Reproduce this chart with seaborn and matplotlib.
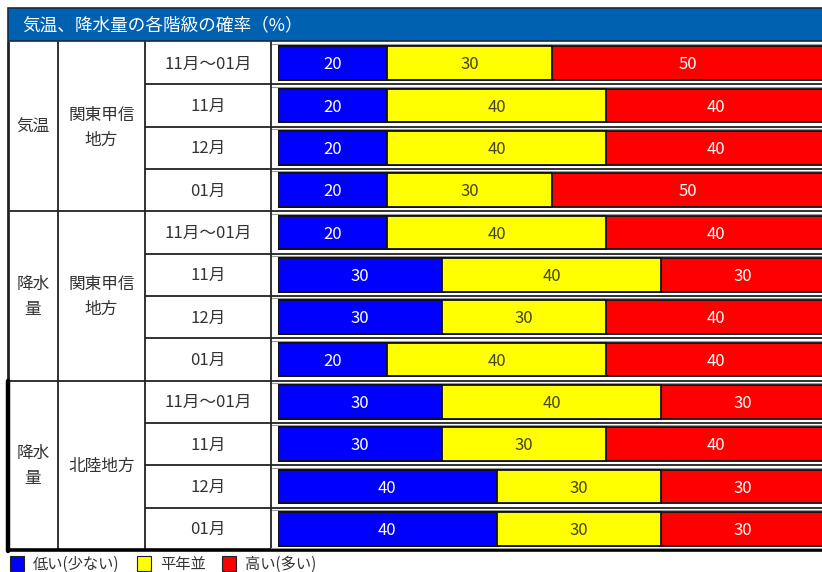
import matplotlib
matplotlib.use("Agg")
import matplotlib.pyplot as plt
import seaborn as sns
import numpy as np
import pandas as pd
from matplotlib.patches import Rectangle

sns.set_theme(style="white")
plt.rcParams["font.family"] = ["Noto Sans CJK JP", "DejaVu Sans"]

# --- data -------------------------------------------------------------
title = "気温、降水量の各階級の確率（%）"
periods = ["11月～01月", "11月", "12月", "01月"] * 3
elements = ["気温", "降水\n量", "降水\n量"]
regions = ["関東甲信\n地方", "関東甲信\n地方", "北陸地方"]
low = [20, 20, 20, 20, 20, 30, 30, 20, 30, 30, 40, 40]
normal = [30, 40, 40, 30, 40, 40, 30, 40, 40, 30, 30, 30]
high = [50, 40, 40, 50, 40, 30, 40, 40, 30, 40, 30, 30]
legend_labels = ["低い(少ない)", "平年並", "高い(多い)"]
colors = ["#0000FF", "#FFFF00", "#FF0000"]
text_colors = ["white", "#444422", "white"]

# --- layout (pixels) -------------------------------------------------
W, H = 822, 572
top, bottom = 42.0, 550.0
n = len(periods)
pitch = (bottom - top) / n
col_x = [8, 58, 145, 271]
bar_left, bar_right = 278, 825

fig = plt.figure(figsize=(W / 100, H / 100), dpi=100)
bg = fig.add_axes([0, 0, 1, 1])
bg.set_xlim(0, W)
bg.set_ylim(H, 0)
bg.axis("off")

# header band
bg.add_patch(Rectangle((8, 8), W, 33, facecolor="#0061B0",
                       edgecolor="#1a2a40", linewidth=1.2))
bg.text(22, 25, title, color="white", fontsize=12.7, va="center", ha="left")

line_c = "#222222"
# row separators in the period column and bar area
for i in range(1, n):
    y = top + i * pitch
    x0 = col_x[0] if i % 4 == 0 else col_x[2]
    bg.plot([x0, W], [y, y], color=line_c, lw=1.3, solid_capstyle="butt")
    bg.plot([col_x[3], W], [y + 2.2, y + 2.2], color="#999999", lw=0.8)
bg.plot([col_x[3], W], [top + 2.2, top + 2.2], color="#999999", lw=0.8)

# vertical separators
for x in col_x[1:]:
    bg.plot([x, x], [top, bottom], color=line_c, lw=1.3)
bg.plot([col_x[0], col_x[0]], [top, top + 8 * pitch], color=line_c, lw=2.0)
# emphasised frame around the last block
bg.plot([col_x[0], col_x[0]], [top + 8 * pitch, bottom + 1], color="black", lw=3.2)
bg.plot([col_x[0], W], [bottom, bottom], color="black", lw=2.6)
bg.plot([col_x[3], W], [bottom - 2.5, bottom - 2.5], color="#999999", lw=0.8)

# group labels
for g in range(3):
    yc = top + (4 * g + 2) * pitch + 1
    bg.text((col_x[0] + col_x[1]) / 2, yc, elements[g], ha="center", va="center",
            fontsize=12, color="#333333", linespacing=1.6)
    bg.text((col_x[1] + col_x[2]) / 2, yc, regions[g], ha="center", va="center",
            fontsize=12, color="#333333", linespacing=1.6)

# period labels
for i, p in enumerate(periods):
    yc = top + (i + 0.5) * pitch + 1
    bg.text((col_x[2] + col_x[3]) / 2, yc, p, ha="center", va="center",
            fontsize=12, color="#333333")

# legend
lx = [10, 137, 222]
for k in range(3):
    bg.add_patch(Rectangle((lx[k], 556), 14, 15, facecolor=colors[k],
                           edgecolor="#222222", linewidth=0.8))
    bg.text(lx[k] + 23, 564, legend_labels[k], ha="left", va="center",
            fontsize=11, color="#333333")

# --- stacked bars ----------------------------------------------------
ax = fig.add_axes([bar_left / W, 1 - bottom / H,
                   (bar_right - bar_left) / W, (bottom - top) / H])
ax.patch.set_alpha(0)

df = pd.DataFrame({"row": np.arange(n), "low": low, "normal": normal, "high": high})
df["c1"] = df["low"]
df["c2"] = df["low"] + df["normal"]
df["c3"] = df["c2"] + df["high"]

for col, c in zip(["c3", "c2", "c1"], colors[::-1]):
    sns.barplot(data=df, x=col, y="row", orient="h", color=c, saturation=1,
                edgecolor="#111111", linewidth=1.3, width=0.8, ax=ax)

for i in range(n):
    vals = [low[i], normal[i], high[i]]
    start = 0
    for k, v in enumerate(vals):
        ax.text(start + v / 2, i + 0.04, str(v), ha="center", va="center",
                fontsize=12, color=text_colors[k])
        start += v

ax.set_xlim(0, 100)
ax.set_ylim(n - 0.5, -0.5)
ax.axis("off")

fig.savefig("out.png", dpi=100)
